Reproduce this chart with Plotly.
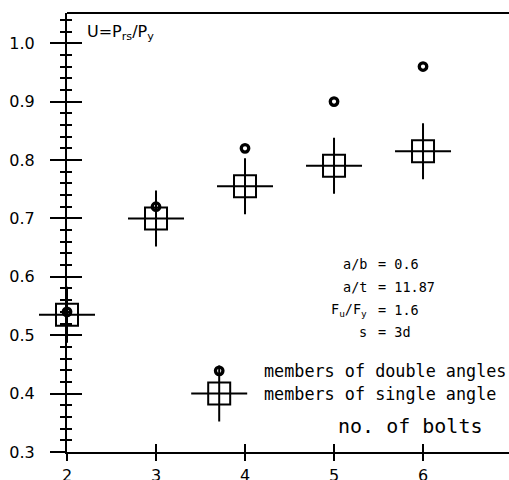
import plotly.graph_objects as go

# ---- data ----
bolts = [2, 3, 4, 5, 6]
u_double = [0.54, 0.72, 0.82, 0.90, 0.96]
u_single = [0.535, 0.70, 0.755, 0.79, 0.815]
x_ticks = [2, 3, 4, 5, 6]
x_tick_labels = ["2", "3", "4", "5", "6"]
y_ticks = [0.3, 0.4, 0.5, 0.6, 0.7, 0.8, 0.9, 1.0]
y_tick_labels = ["0.3", "0.4", "0.5", "0.6", "0.7", "0.8", "0.9", "1.0"]
param_names = ["a/b", "a/t", "F<sub>u</sub>/F<sub>y</sub>", "s"]
param_values = ["0.6", "11.87", "1.6", "3d"]
legend_labels = ["members of double angles", "members of single angle"]

# legend key location (data coords)
KEY_X = 3.71
KEY_Y = [0.439, 0.40]

X_RANGE = [2, 6.966]
Y_RANGE = [0.3, 1.0517]
BLACK = "black"
MONO = "DejaVu Sans Mono"

fig = go.Figure()

def single_markers(x, y):
    fig.add_trace(go.Scatter(x=x, y=y, mode="markers", hoverinfo="skip", cliponaxis=False,
                             marker=dict(symbol="cross-thin-open", size=40,
                                         line=dict(width=2, color=BLACK), color=BLACK),
                             showlegend=False))
    fig.add_trace(go.Scatter(x=x, y=y, mode="markers", hoverinfo="skip", cliponaxis=False,
                             marker=dict(symbol="square-open", size=22,
                                         line=dict(width=2, color=BLACK), color=BLACK),
                             showlegend=False))

def double_markers(x, y):
    fig.add_trace(go.Scatter(x=x, y=y, mode="markers", hoverinfo="skip", cliponaxis=False,
                             marker=dict(symbol="circle-open", size=7.5,
                                         line=dict(width=3.3, color=BLACK), color=BLACK),
                             showlegend=False))

single_markers(bolts, u_single)
double_markers(bolts, u_double)

# legend keys
double_markers([KEY_X], [KEY_Y[0]])
single_markers([KEY_X], [KEY_Y[1]])

# dummy trace on overlay axes so they render
fig.add_trace(go.Scatter(x=[None], y=[None], xaxis="x2", yaxis="y2", showlegend=False))

tickfont = dict(family="DejaVu Sans", size=16, color=BLACK)

fig.update_layout(
    width=509, height=480,
    margin=dict(l=67, r=0, t=13, b=28),
    paper_bgcolor="white", plot_bgcolor="white",
    showlegend=False,
    xaxis=dict(range=X_RANGE, showgrid=False, zeroline=False, showline=True,
               linecolor=BLACK, linewidth=2, ticks="outside", ticklen=7,
               tickwidth=2, tickcolor=BLACK, tickvals=x_ticks, ticktext=x_tick_labels,
               tickfont=tickfont, ticklabelstandoff=1, automargin=False),
    xaxis2=dict(range=X_RANGE, overlaying="x", showgrid=False, zeroline=False,
                showline=False, ticks="inside", ticklen=8, tickwidth=2,
                tickcolor=BLACK, tickvals=x_ticks, showticklabels=False, automargin=False),
    yaxis=dict(range=Y_RANGE, showgrid=False, zeroline=False, showline=True,
               linecolor=BLACK, linewidth=2, ticks="outside", ticklen=15,
               tickwidth=2, tickcolor=BLACK, tickvals=y_ticks, ticktext=y_tick_labels,
               tickfont=tickfont, ticklabelstandoff=12, automargin=False,
               minor=dict(ticks="outside", ticklen=5, tickwidth=2, tickcolor=BLACK,
                          dtick=0.02, showgrid=False)),
    yaxis2=dict(range=Y_RANGE, overlaying="y", showgrid=False, zeroline=False,
                showline=False, ticks="inside", ticklen=15, tickwidth=2,
                tickcolor=BLACK, tickvals=y_ticks, showticklabels=False, automargin=False,
                minor=dict(ticks="inside", ticklen=5, tickwidth=2, tickcolor=BLACK,
                           dtick=0.02, showgrid=False)),
)

# top frame line
fig.add_shape(type="line", xref="paper", yref="paper", x0=0, x1=1, y0=1, y1=1,
              line=dict(color=BLACK, width=2))

# y axis title
fig.add_annotation(xref="paper", yref="paper", x=0.04, y=0.955, xanchor="left",
                   yanchor="middle", showarrow=False,
                   text="U=P<sub>rs</sub>/P<sub>y</sub>",
                   font=dict(family="DejaVu Sans", size=16, color=BLACK))

# parameter block
param_y_px = [264, 287, 310, 332]
for name, val, ypx in zip(param_names, param_values, param_y_px):
    yp = (452 - ypx) / 439
    fig.add_annotation(xref="paper", yref="paper", x=(369 - 67) / 442, y=yp,
                       xanchor="right", yanchor="middle", showarrow=False,
                       text=name, font=dict(family=MONO, size=13.5, color=BLACK))
    fig.add_annotation(xref="paper", yref="paper", x=(376 - 67) / 442, y=yp,
                       xanchor="left", yanchor="middle", showarrow=False,
                       text="= " + val, font=dict(family=MONO, size=13.5, color=BLACK))

# legend texts
for lab, ky in zip(legend_labels, KEY_Y):
    fig.add_annotation(x=KEY_X + (263 - 220) / 89, y=ky, xanchor="left", yanchor="middle",
                       showarrow=False, text=lab,
                       font=dict(family=MONO, size=16.8, color=BLACK))

# x axis title
fig.add_annotation(xref="paper", yref="paper", x=(485 - 67) / 442, y=(452 - 426) / 439,
                   xanchor="right", yanchor="middle", showarrow=False,
                   text="no. of bolts", font=dict(family=MONO, size=20, color=BLACK))

fig.write_html("out.html")
